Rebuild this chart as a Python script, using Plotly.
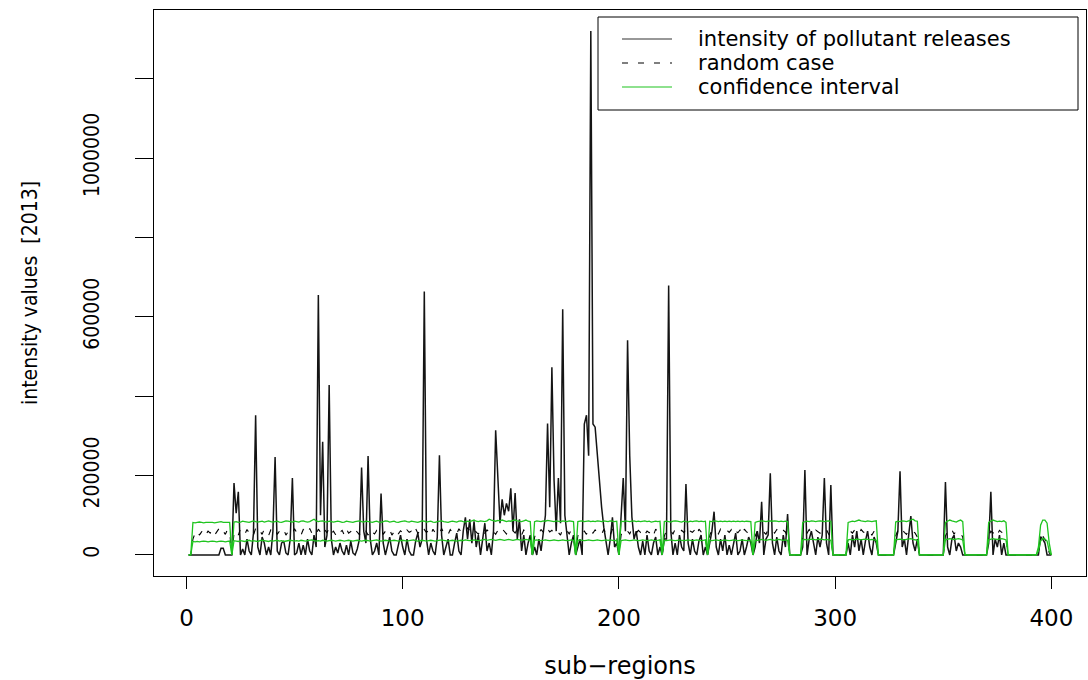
import plotly.graph_objects as go

# ---------------- data ----------------
sub_regions = list(range(1, 401))

intensity = [
    0, 0, 0, 0, 0, 0, 0, 0, 0, 0,
    0, 0, 0, 0, 0, 17000, 17000, 0, 0, 0,
    0, 181000, 105000, 159000, 0, 15000, 0, 40000, 10000, 0,
    55000, 352000, 20000, 0, 45000, 30000, 0, 20000, 0, 60000,
    247000, 10000, 0, 30000, 35000, 5000, 0, 40000, 194000, 0,
    5000, 30000, 0, 25000, 0, 40000, 10000, 0, 50000, 20000,
    655000, 100000, 285000, 20000, 50000, 428000, 40000, 0, 20000, 5000,
    30000, 10000, 0, 25000, 0, 35000, 5000, 0, 15000, 40000,
    220000, 60000, 30000, 249000, 40000, 0, 10000, 30000, 0, 155000,
    30000, 0, 20000, 45000, 10000, 0, 0, 30000, 50000, 20000,
    0, 40000, 10000, 0, 0, 35000, 55000, 20000, 40000, 664000,
    40000, 0, 30000, 10000, 0, 45000, 251000, 50000, 0, 20000,
    40000, 0, 0, 30000, 55000, 10000, 0, 60000, 95000, 40000,
    90000, 30000, 85000, 20000, 50000, 0, 40000, 80000, 10000, 30000,
    0, 60000, 314000, 200000, 80000, 140000, 100000, 130000, 110000, 168000,
    60000, 156000, 40000, 90000, 10000, 50000, 0, 30000, 50000, 0,
    20000, 0, 40000, 10000, 60000, 100000, 331000, 120000, 473000, 189000,
    60000, 194000, 80000, 619000, 100000, 40000, 0, 30000, 50000, 0,
    20000, 40000, 0, 330000, 352000, 250000, 1320000, 330000, 322000, 250000,
    180000, 120000, 70000, 30000, 0, 40000, 95000, 20000, 30000, 0,
    100000, 194000, 60000, 541000, 250000, 96000, 40000, 60000, 20000, 0,
    35000, 0, 50000, 10000, 0, 30000, 45000, 0, 20000, 0,
    40000, 40000, 679000, 60000, 0, 30000, 0, 50000, 20000, 10000,
    179000, 30000, 0, 40000, 10000, 0, 35000, 50000, 0, 20000,
    0, 30000, 60000, 109000, 20000, 0, 40000, 10000, 50000, 0,
    25000, 0, 30000, 55000, 0, 10000, 40000, 0, 20000, 45000,
    30000, 0, 20000, 60000, 30000, 134000, 0, 40000, 50000, 206000,
    30000, 0, 45000, 10000, 0, 50000, 20000, 103000, 0, 0,
    0, 0, 0, 0, 20000, 214000, 0, 40000, 60000, 30000,
    0, 45000, 20000, 50000, 194000, 30000, 0, 176000, 0, 0,
    0, 0, 0, 0, 0, 30000, 0, 50000, 20000, 60000,
    10000, 40000, 0, 35000, 60000, 20000, 0, 45000, 30000, 0,
    0, 0, 0, 0, 0, 0, 0, 30000, 60000, 211000,
    20000, 40000, 0, 50000, 98000, 30000, 10000, 40000, 0, 0,
    0, 0, 0, 0, 0, 0, 0, 0, 0, 0,
    184000, 20000, 0, 40000, 50000, 10000, 30000, 20000, 0, 0,
    0, 0, 0, 0, 0, 0, 0, 0, 0, 0,
    30000, 159000, 0, 40000, 20000, 50000, 0, 30000, 0, 0,
    0, 0, 0, 0, 0, 0, 0, 0, 0, 0,
    0, 0, 0, 0, 46000, 40000, 30000, 0, 0, 0,
]

random_case = [
    0, 0, 40000, 55000, 62000, 50000, 58000, 65000, 52000, 60000,
    55000, 63000, 50000, 58000, 66000, 54000, 60000, 52000, 64000, 57000,
    0, 55000, 62000, 50000, 66000, 58000, 52000, 64000, 56000, 61000,
    50000, 67000, 55000, 60000, 52000, 65000, 57000, 49000, 63000, 58000,
    66000, 52000, 60000, 55000, 64000, 50000, 58000, 62000, 54000, 66000,
    56000, 61000, 50000, 64000, 58000, 53000, 67000, 55000, 60000, 52000,
    65000, 57000, 50000, 63000, 56000, 68000, 54000, 60000, 51000, 64000,
    57000, 62000, 50000, 66000, 55000, 59000, 52000, 64000, 58000, 51000,
    63000, 56000, 60000, 50000, 65000, 57000, 53000, 62000, 58000, 66000,
    52000, 60000, 55000, 64000, 50000, 58000, 66000, 53000, 61000, 56000,
    50000, 63000, 57000, 60000, 52000, 66000, 55000, 59000, 51000, 64000,
    57000, 62000, 50000, 65000, 56000, 60000, 53000, 67000, 55000, 59000,
    51000, 64000, 57000, 60000, 53000, 66000, 58000, 62000, 55000, 68000,
    60000, 55000, 64000, 58000, 52000, 66000, 60000, 55000, 63000, 57000,
    65000, 58000, 52000, 62000, 56000, 66000, 60000, 53000, 64000, 58000,
    61000, 55000, 66000, 57000, 50000, 63000, 58000, 60000, 40000, 0,
    45000, 60000, 55000, 64000, 57000, 52000, 66000, 58000, 62000, 55000,
    63000, 57000, 50000, 65000, 58000, 61000, 53000, 64000, 42000, 0,
    48000, 62000, 56000, 60000, 52000, 66000, 58000, 55000, 63000, 57000,
    60000, 52000, 64000, 56000, 61000, 50000, 65000, 58000, 45000, 0,
    50000, 63000, 57000, 60000, 53000, 66000, 58000, 55000, 62000, 57000,
    64000, 52000, 60000, 56000, 63000, 50000, 65000, 58000, 44000, 0,
    48000, 62000, 56000, 60000, 53000, 65000, 58000, 55000, 62000, 57000,
    64000, 52000, 60000, 57000, 63000, 50000, 65000, 58000, 55000, 45000,
    0, 50000, 62000, 57000, 60000, 53000, 65000, 58000, 55000, 62000,
    57000, 64000, 52000, 60000, 56000, 63000, 50000, 65000, 58000, 55000,
    45000, 0, 48000, 60000, 55000, 63000, 57000, 52000, 64000, 58000,
    61000, 55000, 64000, 57000, 52000, 62000, 58000, 45000, 0, 0,
    0, 0, 0, 0, 45000, 60000, 55000, 64000, 57000, 52000,
    63000, 58000, 55000, 62000, 57000, 64000, 52000, 45000, 0, 0,
    0, 0, 0, 0, 0, 48000, 60000, 55000, 63000, 57000,
    52000, 64000, 58000, 55000, 62000, 57000, 50000, 60000, 45000, 0,
    0, 0, 0, 0, 0, 0, 0, 48000, 62000, 55000,
    64000, 57000, 52000, 63000, 58000, 60000, 55000, 45000, 0, 0,
    0, 0, 0, 0, 0, 0, 0, 0, 0, 0,
    48000, 60000, 55000, 63000, 52000, 62000, 57000, 55000, 45000, 0,
    0, 0, 0, 0, 0, 0, 0, 0, 0, 0,
    48000, 60000, 55000, 63000, 52000, 62000, 57000, 55000, 45000, 0,
    0, 0, 0, 0, 0, 0, 0, 0, 0, 0,
    0, 0, 0, 5000, 45000, 48000, 40000, 30000, 5000, 0,
]

ci_upper = [
    0, 0, 82000, 81000, 82000, 83000, 82000, 81000, 82000, 82000,
    83000, 82000, 81000, 82000, 83000, 84000, 82000, 82000, 81000, 82000,
    0, 83000, 84000, 82000, 83000, 85000, 84000, 83000, 82000, 84000,
    86000, 84000, 83000, 84000, 85000, 83000, 84000, 86000, 84000, 83000,
    84000, 85000, 83000, 82000, 84000, 86000, 85000, 84000, 83000, 85000,
    84000, 83000, 85000, 86000, 84000, 83000, 84000, 88000, 90000, 86000,
    84000, 85000, 86000, 84000, 83000, 85000, 84000, 83000, 84000, 85000,
    84000, 82000, 83000, 85000, 84000, 83000, 82000, 84000, 85000, 86000,
    84000, 83000, 85000, 84000, 83000, 82000, 84000, 85000, 83000, 82000,
    84000, 86000, 85000, 83000, 84000, 85000, 83000, 82000, 84000, 85000,
    86000, 84000, 83000, 85000, 84000, 83000, 82000, 84000, 86000, 85000,
    83000, 84000, 85000, 83000, 82000, 84000, 85000, 86000, 84000, 83000,
    82000, 84000, 85000, 84000, 83000, 85000, 86000, 84000, 83000, 85000,
    84000, 86000, 88000, 85000, 84000, 86000, 85000, 84000, 86000, 90000,
    88000, 86000, 85000, 87000, 86000, 88000, 85000, 84000, 86000, 85000,
    87000, 88000, 86000, 85000, 84000, 86000, 88000, 85000, 84000, 0,
    84000, 86000, 85000, 84000, 86000, 85000, 87000, 86000, 85000, 84000,
    86000, 85000, 84000, 86000, 85000, 84000, 86000, 85000, 84000, 0,
    84000, 85000, 86000, 84000, 85000, 86000, 84000, 85000, 84000, 86000,
    85000, 84000, 86000, 85000, 84000, 86000, 85000, 84000, 85000, 0,
    85000, 84000, 86000, 85000, 84000, 85000, 86000, 84000, 85000, 84000,
    85000, 86000, 84000, 85000, 83000, 84000, 85000, 84000, 85000, 0,
    84000, 85000, 84000, 83000, 85000, 86000, 85000, 84000, 83000, 85000,
    84000, 83000, 85000, 84000, 85000, 86000, 84000, 85000, 84000, 85000,
    0, 85000, 84000, 86000, 85000, 84000, 85000, 84000, 85000, 84000,
    85000, 84000, 85000, 84000, 85000, 84000, 85000, 84000, 85000, 84000,
    84000, 0, 82000, 84000, 85000, 86000, 85000, 84000, 85000, 86000,
    85000, 86000, 85000, 84000, 85000, 84000, 85000, 84000, 0, 0,
    0, 0, 0, 0, 82000, 84000, 85000, 84000, 86000, 85000,
    84000, 85000, 86000, 85000, 84000, 85000, 86000, 85000, 0, 0,
    0, 0, 0, 0, 0, 82000, 84000, 85000, 84000, 86000,
    88000, 86000, 85000, 84000, 86000, 85000, 84000, 85000, 86000, 0,
    0, 0, 0, 0, 0, 0, 0, 83000, 85000, 84000,
    86000, 85000, 84000, 86000, 88000, 90000, 86000, 85000, 0, 0,
    0, 0, 0, 0, 0, 0, 0, 0, 0, 0,
    82000, 84000, 88000, 86000, 84000, 83000, 86000, 88000, 84000, 0,
    0, 0, 0, 0, 0, 0, 0, 0, 0, 0,
    82000, 84000, 88000, 86000, 84000, 85000, 84000, 86000, 82000, 0,
    0, 0, 0, 0, 0, 0, 0, 0, 0, 0,
    0, 0, 0, 20000, 75000, 88000, 88000, 80000, 30000, 0,
]

ci_lower = [
    0, 0, 34000, 33000, 34000, 33000, 34000, 35000, 34000, 33000,
    34000, 35000, 34000, 33000, 34000, 35000, 34000, 33000, 34000, 35000,
    0, 36000, 35000, 34000, 36000, 35000, 34000, 36000, 37000, 35000,
    36000, 35000, 34000, 36000, 37000, 36000, 35000, 34000, 36000, 35000,
    36000, 37000, 35000, 36000, 34000, 35000, 36000, 37000, 36000, 35000,
    36000, 35000, 37000, 36000, 35000, 36000, 37000, 38000, 36000, 35000,
    36000, 35000, 37000, 36000, 35000, 36000, 37000, 36000, 35000, 36000,
    37000, 36000, 35000, 36000, 37000, 36000, 35000, 36000, 37000, 36000,
    35000, 36000, 37000, 36000, 35000, 36000, 37000, 38000, 36000, 35000,
    36000, 37000, 36000, 35000, 36000, 37000, 36000, 35000, 36000, 37000,
    36000, 35000, 36000, 37000, 38000, 36000, 35000, 36000, 37000, 36000,
    35000, 36000, 37000, 36000, 35000, 36000, 37000, 38000, 37000, 36000,
    35000, 36000, 37000, 36000, 35000, 36000, 37000, 36000, 38000, 37000,
    36000, 37000, 38000, 37000, 36000, 37000, 38000, 39000, 37000, 38000,
    39000, 38000, 37000, 38000, 39000, 38000, 37000, 38000, 39000, 38000,
    37000, 38000, 39000, 38000, 37000, 38000, 39000, 38000, 37000, 0,
    37000, 38000, 37000, 36000, 37000, 38000, 37000, 36000, 37000, 38000,
    37000, 36000, 37000, 38000, 37000, 36000, 37000, 38000, 37000, 0,
    37000, 38000, 37000, 36000, 37000, 38000, 37000, 36000, 37000, 38000,
    37000, 36000, 37000, 38000, 37000, 38000, 37000, 36000, 37000, 0,
    36000, 37000, 38000, 37000, 36000, 37000, 38000, 37000, 36000, 37000,
    38000, 37000, 36000, 37000, 38000, 37000, 36000, 37000, 38000, 0,
    37000, 36000, 37000, 38000, 37000, 36000, 37000, 38000, 37000, 36000,
    37000, 38000, 37000, 36000, 37000, 38000, 37000, 36000, 37000, 38000,
    0, 37000, 36000, 37000, 38000, 37000, 36000, 37000, 38000, 37000,
    36000, 37000, 38000, 37000, 36000, 37000, 38000, 37000, 36000, 37000,
    37000, 0, 36000, 37000, 38000, 39000, 38000, 37000, 38000, 39000,
    38000, 37000, 38000, 39000, 38000, 37000, 38000, 37000, 0, 0,
    0, 0, 0, 0, 38000, 39000, 38000, 39000, 40000, 39000,
    38000, 39000, 40000, 39000, 38000, 39000, 38000, 37000, 0, 0,
    0, 0, 0, 0, 0, 38000, 39000, 38000, 39000, 40000,
    39000, 38000, 39000, 40000, 39000, 38000, 39000, 38000, 37000, 0,
    0, 0, 0, 0, 0, 0, 0, 38000, 39000, 40000,
    39000, 38000, 39000, 40000, 41000, 39000, 38000, 37000, 0, 0,
    0, 0, 0, 0, 0, 0, 0, 0, 0, 0,
    38000, 40000, 41000, 40000, 39000, 40000, 41000, 40000, 38000, 0,
    0, 0, 0, 0, 0, 0, 0, 0, 0, 0,
    38000, 40000, 41000, 40000, 39000, 40000, 41000, 40000, 38000, 0,
    0, 0, 0, 0, 0, 0, 0, 0, 0, 0,
    0, 0, 0, 10000, 35000, 42000, 40000, 35000, 10000, 0,
]

x_ticks = [0, 100, 200, 300, 400]
y_ticks = [0, 200000, 400000, 600000, 800000, 1000000, 1200000]
y_tick_text = ["0", "200000", "", "600000", "", "1000000", ""]

legend_labels = ["intensity of pollutant releases", "random case", "confidence interval"]

# ---------------- styling ----------------
BLACK = "#000000"
GREEN = "#1fc41f"
W, H = 1088, 680
ML, MR, MT, MB = 154, 2, 10, 104
PW, PH = W - ML - MR, H - MT - MB

WIDE = "DejaVu Sans, Liberation Sans, Arial, sans-serif"
NARROW = "DejaVu Sans Condensed, Liberation Sans Narrow, Arial Narrow, Liberation Sans, sans-serif"


def px_x(p):
    return (p - ML) / PW


def px_y(p):
    return (H - MB - p) / PH


fig = go.Figure()
fig.add_trace(go.Scatter(x=sub_regions, y=intensity, mode="lines",
                         name=legend_labels[0],
                         line=dict(color="#141414", width=1.5)))
fig.add_trace(go.Scatter(x=sub_regions, y=random_case, mode="lines",
                         name=legend_labels[1],
                         line=dict(color=BLACK, width=1.1, dash="6px,10px")))
fig.add_trace(go.Scatter(x=sub_regions, y=ci_upper, mode="lines",
                         name=legend_labels[2],
                         line=dict(color=GREEN, width=1.3)))
fig.add_trace(go.Scatter(x=sub_regions, y=ci_lower, mode="lines",
                         name=legend_labels[2] + " (lower)",
                         line=dict(color=GREEN, width=1.3)))

# R-style legend box drawn in the plot's corner
shapes = [dict(type="rect", xref="paper", yref="paper",
               x0=px_x(598), x1=px_x(1078), y0=px_y(110), y1=px_y(17),
               line=dict(color=BLACK, width=1), fillcolor="white", layer="above")]
rows = [(39, "#333333", "solid"), (63, BLACK, "6px,10px"), (87, GREEN, "solid")]
annotations = []
for (py, col, dash), lab in zip(rows, legend_labels):
    shapes.append(dict(type="line", xref="paper", yref="paper",
                       x0=px_x(622), x1=px_x(672), y0=px_y(py), y1=px_y(py),
                       line=dict(color=col, width=1.2, dash=dash), layer="above"))
    annotations.append(dict(xref="paper", yref="paper", x=px_x(697), y=px_y(py),
                            xanchor="left", yanchor="middle", showarrow=False,
                            borderpad=0,
                            text=lab, font=dict(family=WIDE, size=21, color=BLACK)))

fig.update_layout(
    width=W, height=H,
    margin=dict(l=ML, r=MR, t=MT, b=MB, pad=0),
    paper_bgcolor="white", plot_bgcolor="white",
    showlegend=False,
    shapes=shapes, annotations=annotations,
)

fig.update_xaxes(
    range=[-15, 416], tickvals=x_ticks, ticktext=[str(v) for v in x_ticks],
    showgrid=False, zeroline=False,
    showline=True, mirror=True, linecolor=BLACK, linewidth=1,
    ticks="outside", ticklen=12, tickwidth=1, tickcolor=BLACK,
    tickfont=dict(family=WIDE, size=23, color=BLACK),
    ticklabelstandoff=9,
    title=dict(text="sub\u2212regions", font=dict(family=WIDE, size=24, color=BLACK), standoff=30),
    automargin=False,
)
fig.update_yaxes(
    range=[-53000, 1373000], tickvals=y_ticks, ticktext=y_tick_text,
    showgrid=False, zeroline=False,
    showline=True, mirror=True, linecolor=BLACK, linewidth=1,
    ticks="outside", ticklen=18, tickwidth=1, tickcolor=BLACK,
    tickangle=-90,
    tickfont=dict(family=NARROW, size=21, color=BLACK),
    ticklabelstandoff=28,
    title=dict(text="intensity values \u00a0[2013]", font=dict(family=NARROW, size=21, color=BLACK), standoff=36),
    automargin=False,
)

fig.write_html("out.html", config={"displayModeBar": False},
               post_script="document.body.style.margin='0';")
